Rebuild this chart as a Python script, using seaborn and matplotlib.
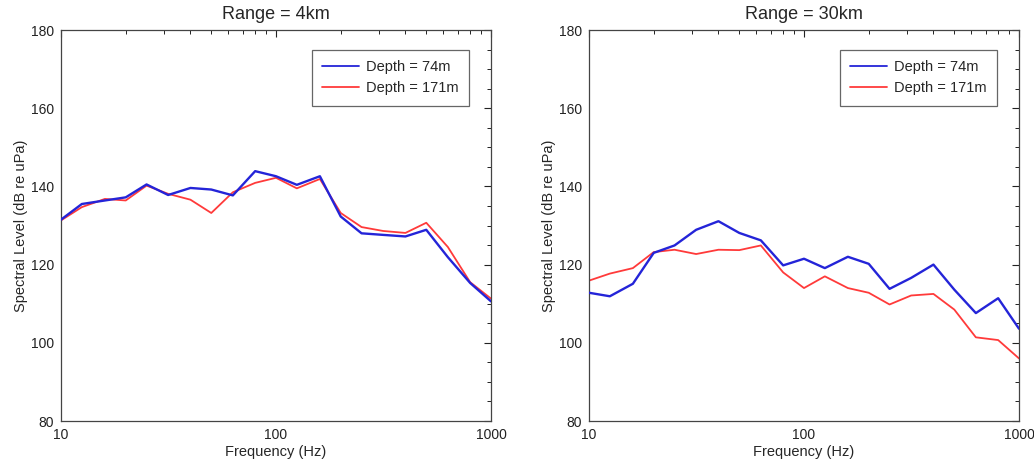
import numpy as np
import pandas as pd
import matplotlib
matplotlib.use("Agg")
import matplotlib.pyplot as plt
import seaborn as sns
from matplotlib.ticker import MultipleLocator, FixedLocator, FixedFormatter, LogLocator, NullFormatter

# one-third octave band centre frequencies (Hz)
freq = [10, 12.5, 16, 20, 25, 31.5, 40, 50, 63, 80, 100, 125, 160, 200, 250, 315, 400, 500, 630, 800, 1000]

# Range = 4 km
r4_d74 = [131.5, 135.5, 136.4, 137.2, 140.5, 137.8, 139.6, 139.2, 137.7, 143.9, 142.6,
          140.4, 142.6, 132.3, 128.0, 127.6, 127.2, 128.9, 121.9, 115.3, 110.6]
r4_d171 = [131.3, 134.7, 136.8, 136.4, 140.2, 138.1, 136.6, 133.2, 138.5, 140.9, 142.2,
           139.5, 141.9, 133.2, 129.6, 128.6, 128.1, 130.7, 124.5, 115.5, 111.3]

# Range = 30 km
r30_d74 = [112.8, 111.9, 115.1, 123.0, 124.9, 128.9, 131.1, 128.1, 126.2, 119.8, 121.5,
           119.1, 122.0, 120.2, 113.8, 116.6, 120.0, 113.6, 107.6, 111.4, 103.6]
r30_d171 = [115.9, 117.7, 119.1, 123.2, 123.8, 122.7, 123.8, 123.7, 124.9, 118.0, 114.0,
            117.0, 114.0, 112.8, 109.8, 112.1, 112.5, 108.5, 101.4, 100.7, 96.0]

titles = ["Range = 4km", "Range = 30km"]
depth_labels = ["Depth = 74m", "Depth = 171m"]
colors = {depth_labels[0]: "#2424d8", depth_labels[1]: "#ff3a3a"}

sns.set_style("white")
plt.rcParams["font.family"] = ["Liberation Sans", "DejaVu Sans"]

fig = plt.figure(figsize=(10.34, 4.61), dpi=100)
W, H = 1034, 461
axes = [fig.add_axes([61 / W, 40 / H, 430 / W, 391 / H]),
        fig.add_axes([589 / W, 40 / H, 430 / W, 391 / H])]

panels = [(r4_d74, r4_d171), (r30_d74, r30_d171)]
for ax, title, (a, b) in zip(axes, titles, panels):
    df = pd.DataFrame({"freq": freq * 2,
                       "level": a + b,
                       "depth": [depth_labels[0]] * len(freq) + [depth_labels[1]] * len(freq)})
    sns.lineplot(data=df, x="freq", y="level", hue="depth", palette=colors,
                 linewidth=1.3, ax=ax)
    # blue drawn thicker and on top, as in the original
    ax.lines[0].set_linewidth(1.7)
    ax.lines[0].set_zorder(3)
    ax.set_xscale("log")
    ax.set_xlim(10, 1000)
    ax.set_ylim(80, 180)
    ax.xaxis.set_major_locator(FixedLocator([10, 100, 1000]))
    ax.xaxis.set_major_formatter(FixedFormatter(["10", "100", "1000"]))
    ax.xaxis.set_minor_locator(LogLocator(base=10, subs=np.arange(2, 10)))
    ax.xaxis.set_minor_formatter(NullFormatter())
    ax.yaxis.set_major_locator(MultipleLocator(20))
    ax.yaxis.set_minor_locator(MultipleLocator(5))
    ax.tick_params(which="both", direction="in", top=True, right=True,
                   labelsize=10, colors="#222222", pad=5)
    ax.tick_params(which="major", length=5, width=0.8)
    ax.tick_params(which="minor", length=3, width=0.7)
    for s in ax.spines.values():
        s.set_color("#444444")
        s.set_linewidth(0.9)
    ax.set_title(title, fontsize=13, pad=8)
    ax.set_xlabel("Frequency (Hz)", fontsize=10.5, labelpad=2)
    ax.set_ylabel("Spectral Level (dB re uPa)", fontsize=10.5, labelpad=2)
    leg = ax.legend(loc="upper right", bbox_to_anchor=(0.949, 0.949), fontsize=10.5,
                    fancybox=False, frameon=True, framealpha=1, edgecolor="#666666",
                    handlelength=2.5, handletextpad=0.5, borderpad=0.7,
                    labelspacing=0.5, borderaxespad=0)
    leg.get_frame().set_linewidth(0.9)
    leg.set_title(None)

fig.savefig("out.png", dpi=100)
